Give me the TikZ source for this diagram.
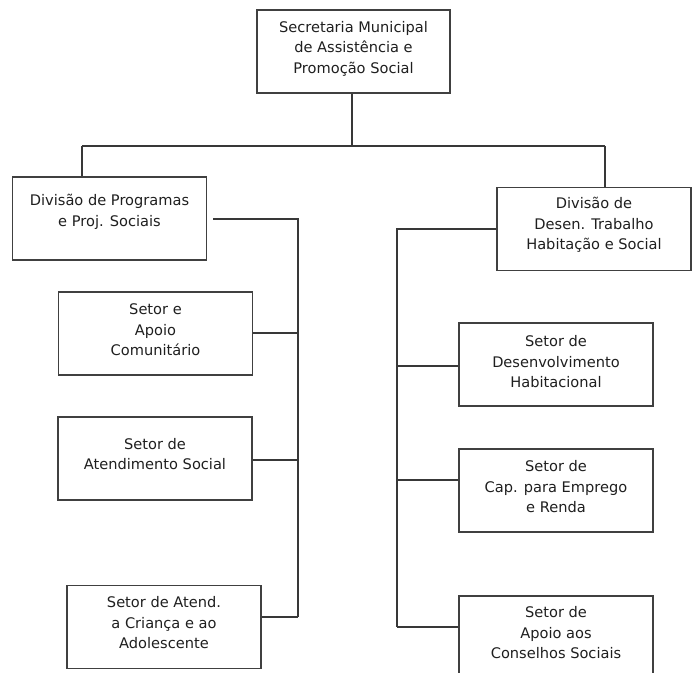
\documentclass[tikz,border=0pt]{standalone}
\usepackage{fontspec}
\setmainfont{DejaVu Sans}
\begin{document}
\begin{tikzpicture}[x=1pt,y=-1pt,
  link/.style={draw=black!78, line width=1.2pt},
  unit/.style={draw=black!75, line width=1.2pt, fill=white, rectangle, inner sep=0pt,
    minimum width=194pt, minimum height=83pt},
  caption/.style={draw=none, inner sep=0pt, align=center, text=black!88,
    font=\fontsize{14.6}{20.5}\selectfont}]
\useasboundingbox (0,0) rectangle (698,672);
\clip (0,0) rectangle (698,672);

% boxes (position = centre of each rectangle)
\node[unit, minimum width=193pt] (sec) at (353.5,51.5) {};
\node[unit] (divA) at (109.5,218.5) {};
\node[unit] (divB) at (594,229) {};
\node[unit] (sA1) at (155.5,333.5) {};
\node[unit] (sA2) at (155,458.5) {};
\node[unit] (sA3) at (164,627) {};
\node[unit] (sB1) at (556,364.5) {};
\node[unit] (sB2) at (556,490.5) {};
\node[unit] (sB3) at (556,637.5) {};

% texts
\node[caption] (secT) at ([yshift=3pt]sec.center) {Secretaria Municipal\\de Assistência e\\Promoção Social};
\node[caption] (divAT) at ([yshift=6.5pt]divA.center) {Divisão de Programas\\e Proj. Sociais};
\node[caption] (divBT) at ([yshift=4pt]divB.center) {Divisão de\\Desen. Trabalho\\Habitação e Social};
\node[caption] (sA1T) at ([yshift=3.5pt]sA1.center) {Setor e\\Apoio\\Comunitário};
\node[caption] (sA2T) at ([yshift=4.5pt]sA2.center) {Setor de\\Atendimento Social};
\node[caption] (sA3T) at ([yshift=4pt]sA3.center) {Setor de Atend.\\a Criança e ao\\Adolescente};
\node[caption] (sB1T) at ([yshift=2.5pt]sB1.center) {Setor de\\Desenvolvimento\\Habitacional};
\node[caption] (sB2T) at ([yshift=3.5pt]sB2.center) {Setor de\\Cap. para Emprego\\e Renda};
\node[caption] (sB3T) at ([yshift=4.5pt]sB3.center) {Setor de\\Apoio aos\\Conselhos Sociais};

% bus points
\coordinate (top) at (352,146);
\coordinate (topL) at (82,146);
\coordinate (topR) at (605,146);
\coordinate (busA0) at (298,219);
\coordinate (busA1) at (298,333);
\coordinate (busA2) at (298,460);
\coordinate (busA3) at (298,617);
\coordinate (busB0) at (397,229);
\coordinate (busB1) at (397,366);
\coordinate (busB2) at (397,480);
\coordinate (busB3) at (397,627);

% head to divisions
\draw[link] (sec.south -| top) -- (top);
\draw[link] (topL) -- (topR);
\draw[link] (topL) -- (topL |- divA.north);
\draw[link] (topR) -- (topR |- divB.north);

% left division and its sectors
\draw[link, shorten <=6pt] (busA0 -| divA.east) -- (busA0) -- (busA3);
\draw[link] (busA1 -| sA1.east) -- (busA1);
\draw[link] (busA2 -| sA2.east) -- (busA2);
\draw[link] (busA3 -| sA3.east) -- (busA3);

% right division and its sectors
\draw[link] (busB0 -| divB.west) -- (busB0) -- (busB3);
\draw[link] (busB1 -| sB1.west) -- (busB1);
\draw[link] (busB2 -| sB2.west) -- (busB2);
\draw[link] (busB3 -| sB3.west) -- (busB3);
\end{tikzpicture}
\end{document}
